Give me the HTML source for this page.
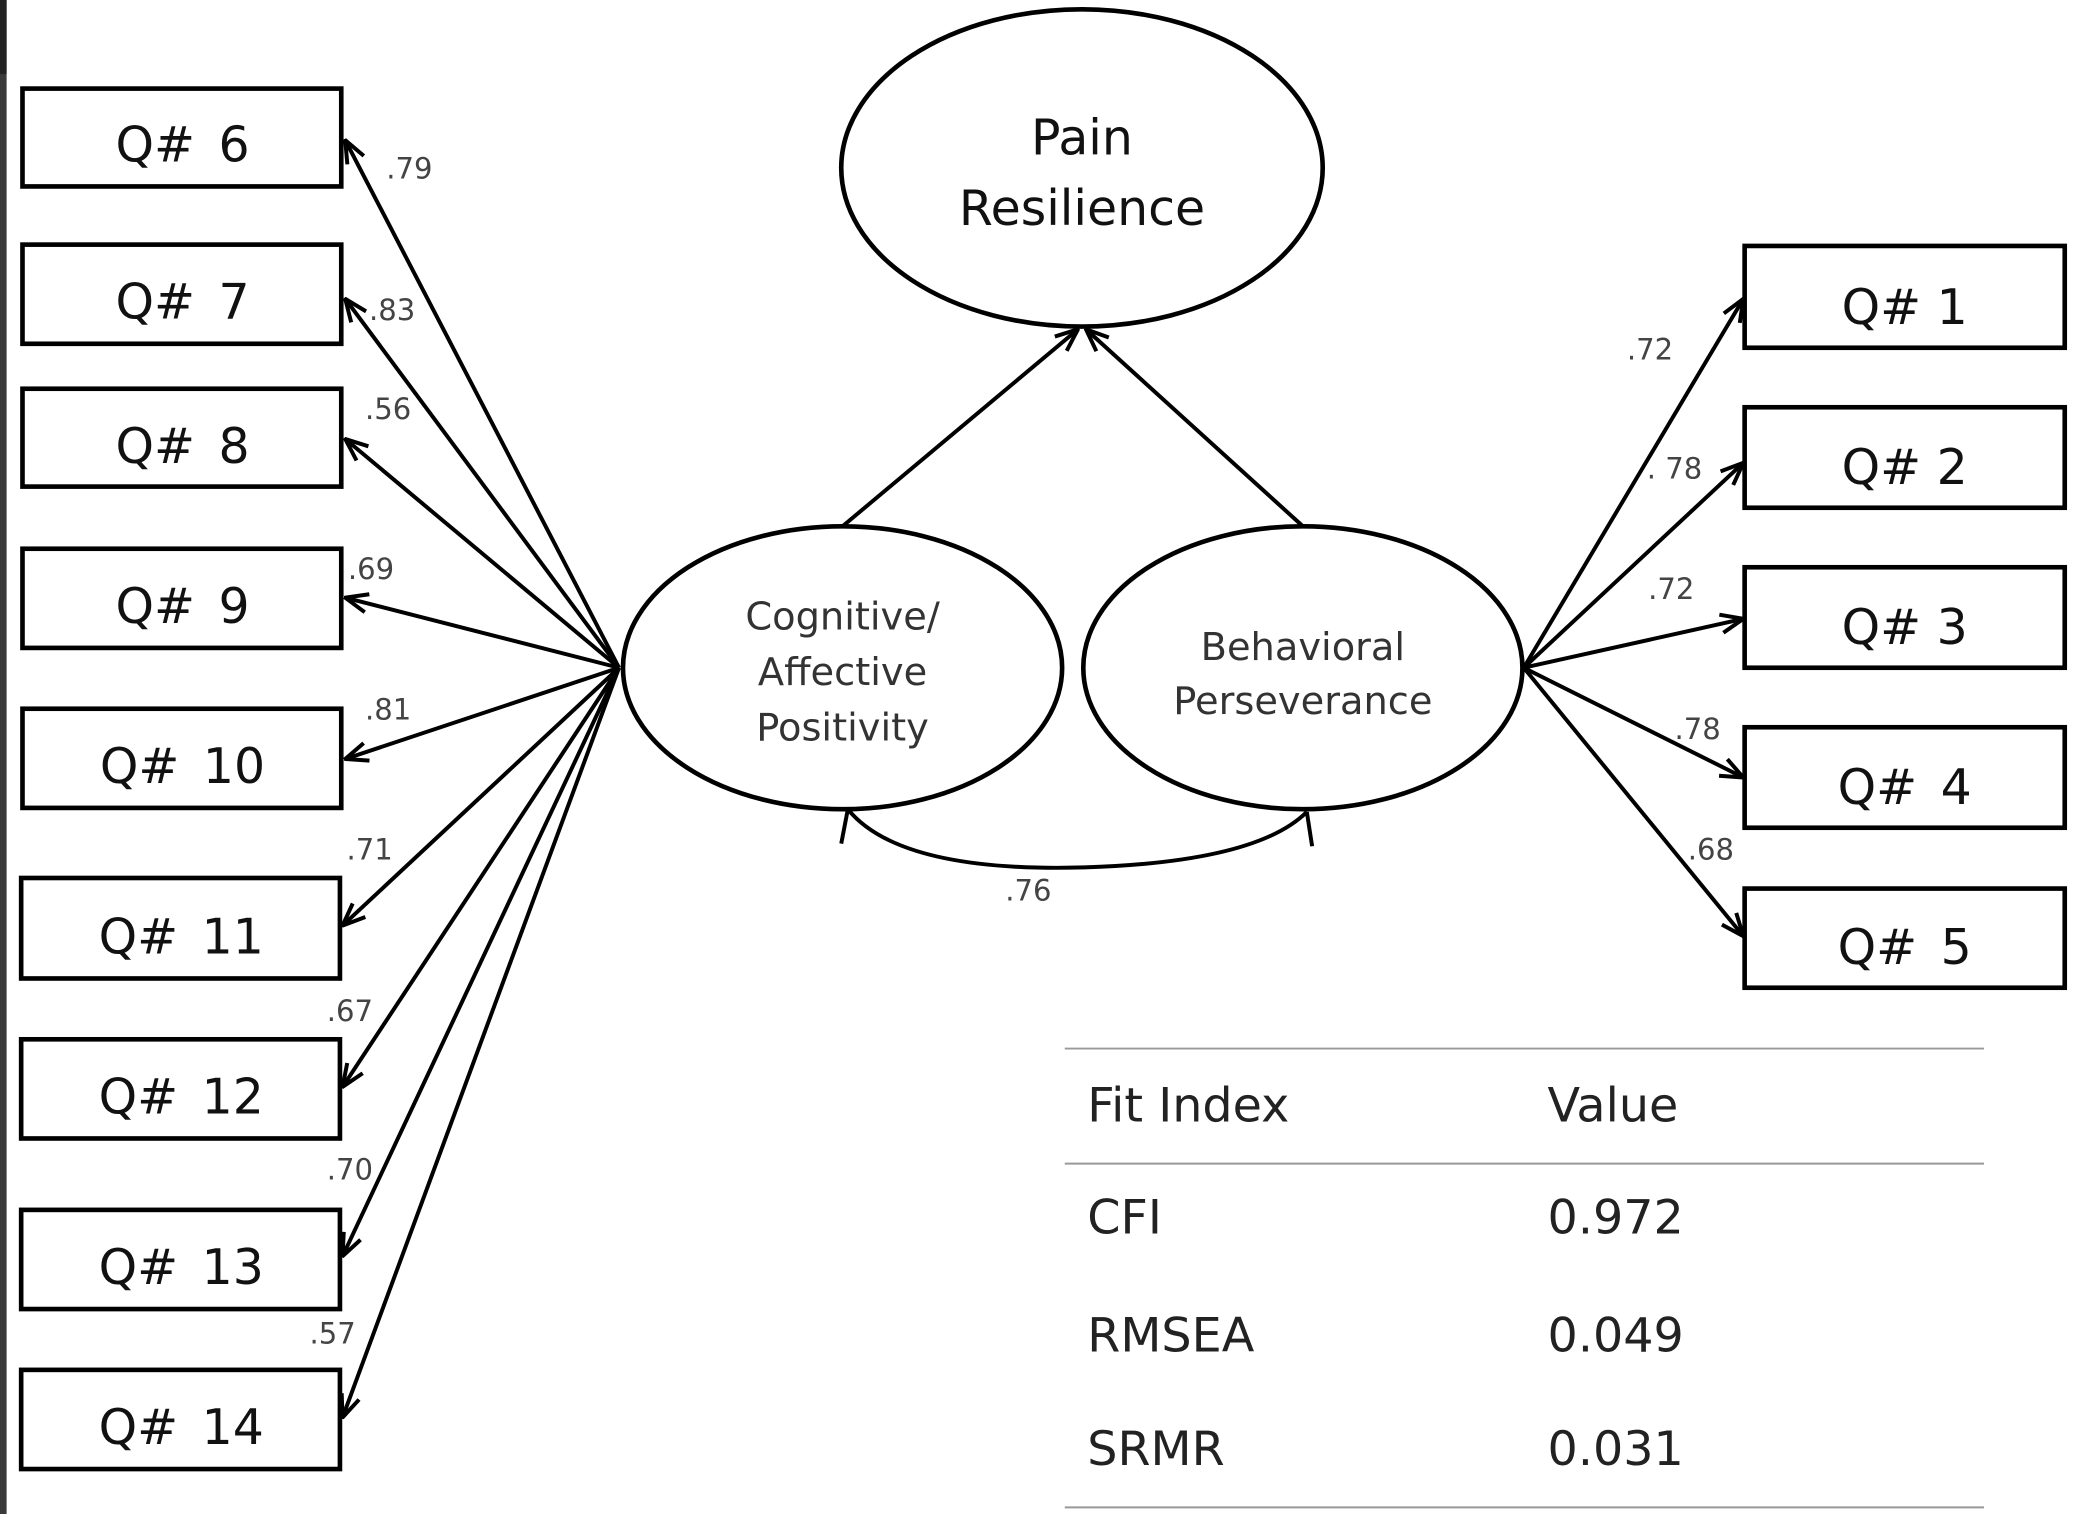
<!DOCTYPE html>
<html><head><style>
html,body{margin:0;padding:0;background:#fff;}
svg{display:block;}
text{font-family:"DejaVu Sans","Liberation Sans",sans-serif;}
</style></head><body>
<svg width="2074" height="1514" viewBox="0 0 1568 1145" preserveAspectRatio="none" xmlns="http://www.w3.org/2000/svg">
<defs>
<marker id="a" markerWidth="20" markerHeight="20" refX="19" refY="10" orient="auto" markerUnits="userSpaceOnUse" viewBox="0 0 20 20">
<path d="M2,3 L19,10 L2,17" fill="none" stroke="#000" stroke-width="3"/>
</marker>
</defs>
<rect x="0" y="0" width="5" height="1145" fill="#3a3a3a"/>
<rect x="0" y="0" width="5" height="56" fill="#222"/>
<g fill="#fff" stroke="#000" stroke-width="3.5">
<rect x="17" y="67" width="241" height="74"/>
<rect x="17" y="185" width="241" height="75"/>
<rect x="17" y="294" width="241" height="74"/>
<rect x="17" y="415" width="241" height="75"/>
<rect x="17" y="536" width="241" height="75"/>
<rect x="16" y="664" width="241" height="76"/>
<rect x="16" y="786" width="241" height="75"/>
<rect x="16" y="915" width="241" height="75"/>
<rect x="16" y="1036" width="241" height="75"/>
<rect x="1319" y="186" width="242" height="77"/>
<rect x="1319" y="308" width="242" height="76"/>
<rect x="1319" y="429" width="242" height="76"/>
<rect x="1319" y="550" width="242" height="76"/>
<rect x="1319" y="672" width="242" height="75"/>
<ellipse cx="818" cy="127" rx="182" ry="120"/>
<ellipse cx="637" cy="505" rx="166" ry="107"/>
<ellipse cx="985" cy="505" rx="166" ry="107"/>
</g>
<g stroke="#000" stroke-width="3" fill="none" marker-end="url(#a)">
<line x1="468" y1="505" x2="261" y2="106"/>
<line x1="468" y1="505" x2="261" y2="226"/>
<line x1="468" y1="505" x2="261" y2="332"/>
<line x1="468" y1="505" x2="261" y2="452"/>
<line x1="468" y1="505" x2="261" y2="574"/>
<line x1="468" y1="505" x2="259" y2="700"/>
<line x1="468" y1="505" x2="259" y2="822"/>
<line x1="468" y1="505" x2="259" y2="950"/>
<line x1="468" y1="505" x2="259" y2="1072"/>
<line x1="1152" y1="505" x2="1318" y2="226"/>
<line x1="1152" y1="505" x2="1318" y2="350"/>
<line x1="1152" y1="505" x2="1318" y2="468"/>
<line x1="1152" y1="505" x2="1318" y2="588"/>
<line x1="1152" y1="505" x2="1318" y2="708"/>
<line x1="637" y1="398" x2="815" y2="249"/>
<line x1="985" y1="398" x2="821" y2="249"/>
</g>
<g stroke="#000" stroke-width="3" fill="none">
<path d="M641,612 Q680,660 820,656 Q950,652 988,614"/>
<path d="M641,612 L636,638"/>
<path d="M988,614 L992,640"/>
</g>
<g fill="#999" stroke="#999" stroke-width="1.5">
<line x1="805" y1="793" x2="1500" y2="793"/>
<line x1="805" y1="880" x2="1500" y2="880"/>
<line x1="805" y1="1140" x2="1500" y2="1140"/>
</g>
<g font-size="37" fill="#111" text-anchor="middle" word-spacing="6">
<text x="138" y="122">Q# 6</text>
<text x="138" y="241">Q# 7</text>
<text x="138" y="350">Q# 8</text>
<text x="138" y="471">Q# 9</text>
<text x="138" y="592">Q# 10</text>
<text x="137" y="721">Q# 11</text>
<text x="137" y="842">Q# 12</text>
<text x="137" y="971">Q# 13</text>
<text x="137" y="1092">Q# 14</text>
<text x="1440" y="245" word-spacing="0">Q# 1</text>
<text x="1440" y="366" word-spacing="0">Q# 2</text>
<text x="1440" y="487" word-spacing="0">Q# 3</text>
<text x="1440" y="608">Q# 4</text>
<text x="1440" y="729">Q# 5</text>
<text x="818" y="117" font-size="37" word-spacing="0">Pain</text>
<text x="818" y="170" font-size="37">Resilience</text>
</g>
<g font-size="29" fill="#333" text-anchor="middle">
<text x="637" y="476">Cognitive/</text>
<text x="637" y="518">Affective</text>
<text x="637" y="560">Positivity</text>
<text x="985" y="499">Behavioral</text>
<text x="985" y="540">Perseverance</text>
</g>
<g font-size="22" fill="#444">
<text x="292" y="135">.79</text>
<text x="279" y="242">.83</text>
<text x="276" y="317">.56</text>
<text x="263" y="438">.69</text>
<text x="276" y="544">.81</text>
<text x="262" y="650">.71</text>
<text x="247" y="772">.67</text>
<text x="247" y="892">.70</text>
<text x="234" y="1016">.57</text>
<text x="1230" y="272">.72</text>
<text x="1245" y="362">. 78</text>
<text x="1246" y="453">.72</text>
<text x="1266" y="559">.78</text>
<text x="1276" y="650">.68</text>
<text x="760" y="681">.76</text>
</g>
<g font-size="36" fill="#222">
<text x="822" y="848">Fit Index</text>
<text x="1170" y="848">Value</text>
<text x="822" y="933">CFI</text>
<text x="1170" y="933">0.972</text>
<text x="822" y="1022">RMSEA</text>
<text x="1170" y="1022">0.049</text>
<text x="822" y="1108">SRMR</text>
<text x="1170" y="1108">0.031</text>
</g>
</svg>
</body></html>
